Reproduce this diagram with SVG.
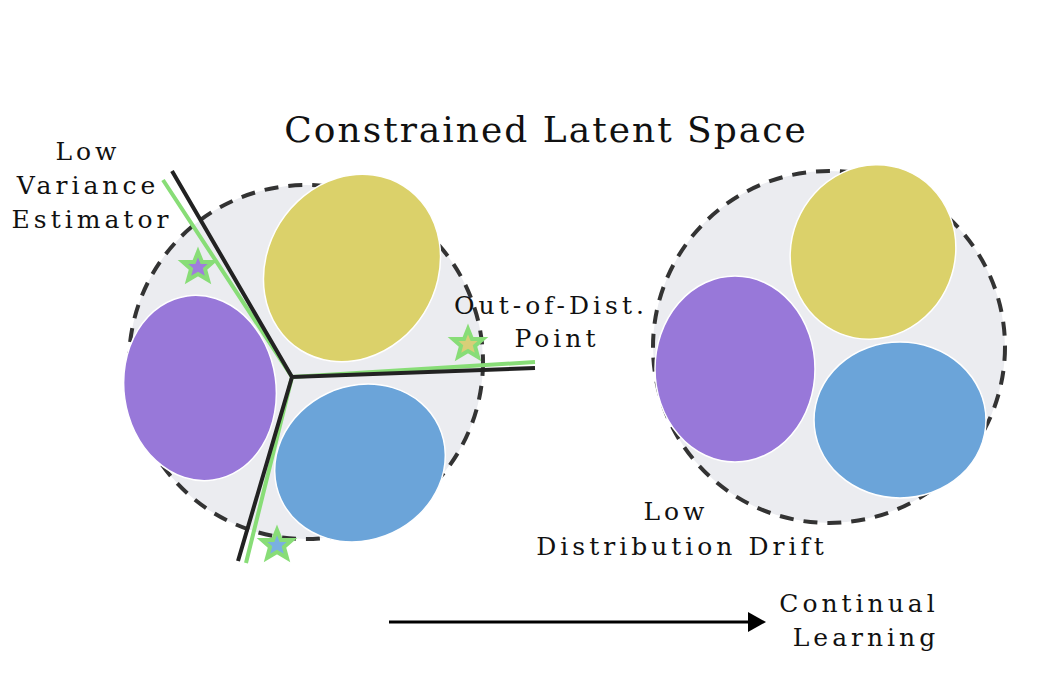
<svg xmlns="http://www.w3.org/2000/svg" width="1042" height="683" viewBox="0 0 1042 683">
<style>
text{font-family:"DejaVu Serif","Liberation Serif",serif;fill:#111;text-anchor:middle}
.t{font-size:25px;letter-spacing:4px}
.bg{fill:#ebecf0;stroke:#333;stroke-width:4;stroke-dasharray:14 10}
.y{fill:#dbd16a;stroke:#fff;stroke-width:1.5}
.p{fill:#9878d9;stroke:#fff;stroke-width:1.5}
.b{fill:#6ba4d9;stroke:#fff;stroke-width:1.5}
.st{stroke:#88dd77;stroke-width:4}
</style>
<rect width="1042" height="683" fill="#fff"/>
<text x="546" y="142" style="font-size:36px;letter-spacing:2px">Constrained Latent Space</text>
<g id="left">
<circle class="bg" cx="306" cy="362" r="177"/>
<ellipse class="y" cx="352" cy="268" rx="85" ry="97" transform="rotate(32 352 268)"/>
<ellipse class="p" cx="200" cy="388" rx="76" ry="93" transform="rotate(-8 200 388)"/>
<ellipse class="b" cx="360" cy="463" rx="87" ry="77" transform="rotate(-25 360 463)"/>
</g>
<g id="connectors" fill="none">
<path d="M163,180 L292,377 L535,362 M292,377 L246,563" stroke="#88dd77" stroke-width="4"/>
<path d="M172,171 L292,377 L535,368 M292,377 L238,561" stroke="#222" stroke-width="4"/>
<line x1="389" y1="622" x2="756" y2="622" stroke="#000" stroke-width="3"/>
<path d="M748,612 L766,622 L748,632 Z" fill="#000"/>
</g>
<g id="stars">
<polygon class="st" fill="#9f7ddc" points="198,252 202,262 213,262 205,269 208,280 198,274 188,280 191,269 183,262 194,262"/>
<polygon class="st" fill="#d8cf78" points="468,329 472,339 483,339 475,346 478,357 468,351 458,357 461,346 453,339 464,339"/>
<polygon class="st" fill="#7ab0e0" points="277,530 281,540 292,540 284,547 287,558 277,552 267,558 270,547 262,540 273,540"/>
</g>
<g id="right">
<circle class="bg" cx="829" cy="347" r="176"/>
<ellipse class="y" cx="873" cy="252" rx="82" ry="88" transform="rotate(22 873 252)"/>
<ellipse class="p" cx="735" cy="369" rx="80" ry="93"/>
<ellipse class="b" cx="900" cy="420" rx="86" ry="78"/>
</g>
<g id="labels">
<text class="t" x="88" y="160">Low</text>
<text class="t" x="88" y="194">Variance</text>
<text class="t" x="92" y="228">Estimator</text>
<text class="t" x="551" y="314">Out-of-Dist.</text>
<text class="t" x="557" y="347">Point</text>
<text class="t" x="676" y="520">Low</text>
<text class="t" x="682" y="555">Distribution Drift</text>
<text class="t" x="859" y="612">Continual</text>
<text class="t" x="866" y="646">Learning</text>
</g>
</svg>
